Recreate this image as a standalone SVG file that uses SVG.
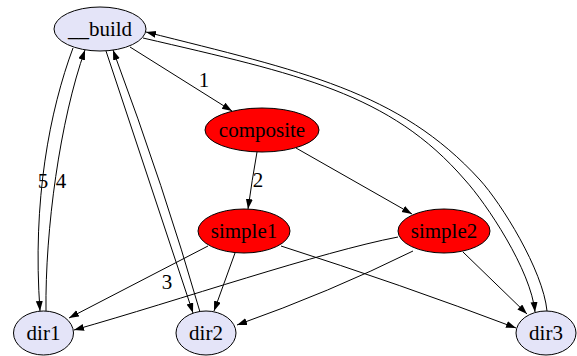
<svg xmlns="http://www.w3.org/2000/svg" width="577" height="356" viewBox="0 0 577 356">
<style>
.n ellipse{stroke:#000;stroke-width:1}
.blue ellipse{fill:#e4e4f8}
.red ellipse{fill:#ff0000}
text{font-family:'Liberation Serif',serif;font-size:21px;fill:#000;text-anchor:middle}
#edges path{fill:none;stroke:#000;stroke-width:1;marker-end:url(#arr)}
</style>
<defs>
<marker id="arr" markerUnits="userSpaceOnUse" markerWidth="11" markerHeight="8" refX="10" refY="3.5" orient="auto">
<path d="M0,0 L10,3.5 L0,7 z" fill="#000"/>
</marker>
</defs>
<rect width="577" height="356" fill="#fff"/>
<g id="edges">
<path d="M130,47 L232,111"/>
<path d="M257,152 Q252,180 248,209"/>
<path d="M296,148 L412,214"/>
<path d="M73,48 C50,110 32,200 40,311"/>
<path d="M46,311 C45,230 60,120 85,50"/>
<path d="M106,51 L193,313"/>
<path d="M200,312 Q165,190 113,50"/>
<path d="M547,311 C543,270 501,203 480,180 C399,91 301,71 146,32"/>
<path d="M143,38 C298,74 390,93 465,180 C486,203 531,270 535,312"/>
<path d="M208,246 L69,318"/>
<path d="M398,237 C320,252 180,300 74,330"/>
<path d="M235,253 L214,311"/>
<path d="M413,251 Q330,292 237,325"/>
<path d="M281,246 Q400,284 516,328"/>
<path d="M463,252 L527,314"/>
<text x="204" y="87" font-family="Liberation Serif">1</text>
<text x="258" y="187">2</text>
<text x="167" y="289">3</text>
<text x="43" y="188">5</text>
<text x="61" y="188">4</text>
</g>
<g id="build" class="n blue"><ellipse cx="100" cy="29" rx="46" ry="22"/><text x="100" y="36">__build</text></g>
<g id="composite" class="n red"><ellipse cx="262" cy="130" rx="57" ry="22"/><text x="262" y="137">composite</text></g>
<g id="simple1" class="n red"><ellipse cx="244" cy="231" rx="46" ry="22"/><text x="244" y="238">simple1</text></g>
<g id="simple2" class="n red"><ellipse cx="444" cy="231" rx="46" ry="22"/><text x="444" y="238">simple2</text></g>
<g id="dir1" class="n blue"><ellipse cx="43.5" cy="333" rx="30" ry="22"/><text x="43.5" y="340">dir1</text></g>
<g id="dir2" class="n blue"><ellipse cx="206" cy="333" rx="30" ry="22"/><text x="206" y="340">dir2</text></g>
<g id="dir3" class="n blue"><ellipse cx="546" cy="333" rx="30" ry="22"/><text x="546" y="340">dir3</text></g>
</svg>
